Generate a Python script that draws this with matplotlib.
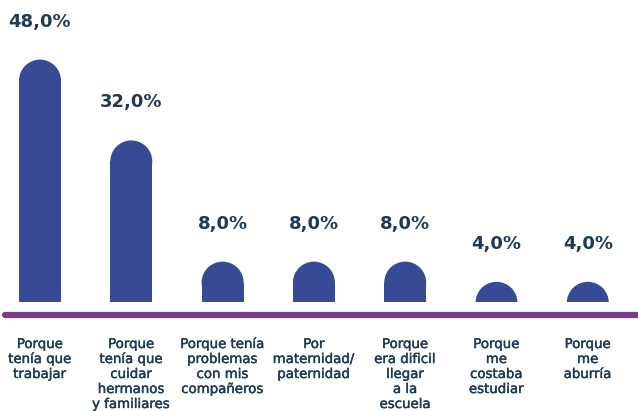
import matplotlib
matplotlib.use("Agg")
import matplotlib.pyplot as plt
import matplotlib.patheffects as pe
from matplotlib.patches import Ellipse, Rectangle

# datos
categorias = [
    "Porque\ntenía que\ntrabajar",
    "Porque\ntenía que\ncuidar\nhermanos\ny familiares",
    "Porque tenía\nproblemas\ncon mis\ncompañeros",
    "Por\nmaternidad/\npaternidad",
    "Porque\nera dificil\nllegar\na la\nescuela",
    "Porque\nme\ncostaba\nestudiar",
    "Porque\nme\naburría",
]
valores = [48, 32, 8, 8, 8, 4, 4]

azul = "#374a96"
morado = "#7b3b8d"
texto = "#1f3a55"

plt.rcParams['font.family'] = ['DejaVu Sans']

fig = plt.figure(figsize=(6.38, 4.11), dpi=100)
ax = fig.add_axes([0, 0, 1, 1])

# escala: 91.3 px por categoria, 5.05 px por %
px_x = 91.3
px_y = 5.05
ax.set_xlim(-40 / px_x, (638 - 40) / px_x)
ax.set_ylim(-109 / px_y, 302 / px_y)
ax.axis("off")

ancho = 42 / px_x
rx = ancho / 2
ry = 21 / px_y

clip = Rectangle((-1, 0), 10, 100, transform=ax.transData)

for i, v in enumerate(valores):
    ax.bar(i, max(v - ry, 0), width=ancho, color=azul, linewidth=0)
    e = Ellipse((i, v - ry), 2 * rx, 2 * ry, facecolor=azul, edgecolor="none")
    ax.add_patch(e)
    e.set_clip_path(clip)
    ax.text(i, v + 38 / px_y, f"{v:.1f}%".replace(".", ","), ha="center", va="center",
            fontsize=13, fontweight="bold", color=texto)
    ax.text(i, -36 / px_y, categorias[i], ha="center", va="top", fontsize=9.6,
            color=texto, linespacing=1.2,
            path_effects=[pe.withStroke(linewidth=0.3, foreground=texto)])

ax.plot([-35 / px_x, 7], [-13 / px_y, -13 / px_y], color=morado, linewidth=4.5,
        solid_capstyle="round", clip_on=False)

fig.savefig("out.png", dpi=100)
